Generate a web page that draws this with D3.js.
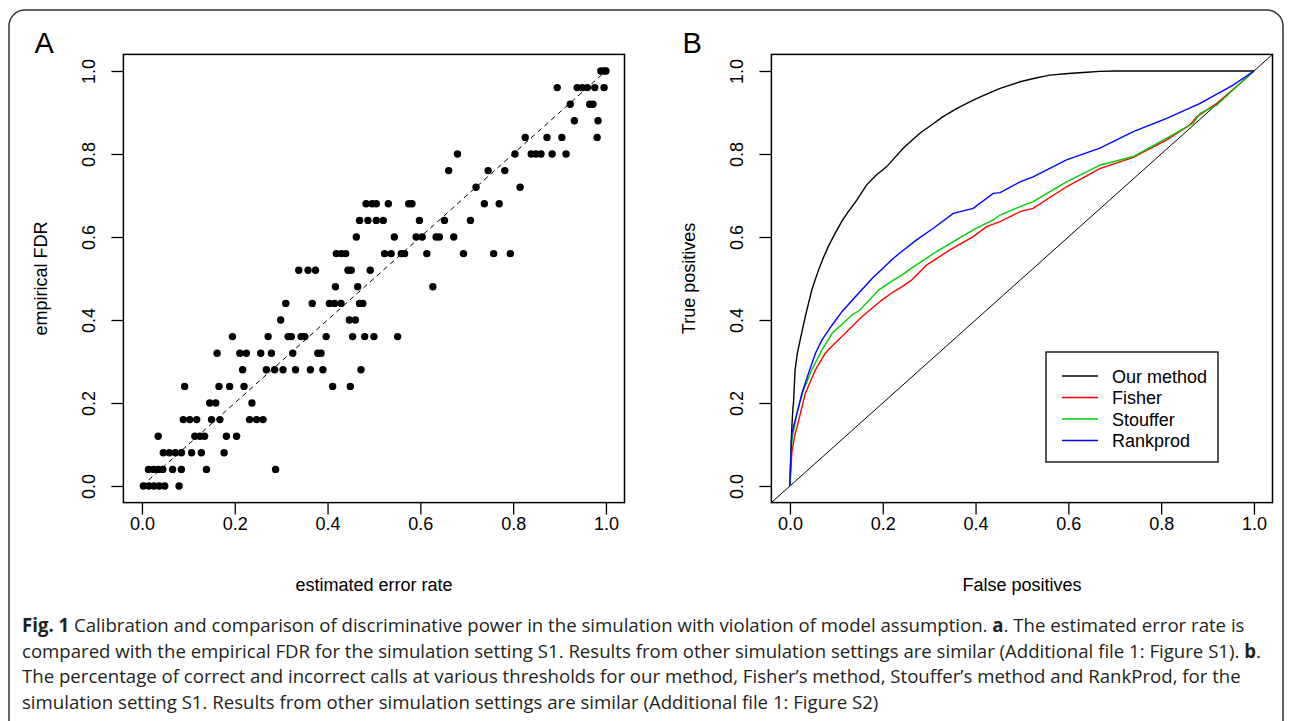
<!DOCTYPE html>
<html>
<head>
<meta charset="utf-8">
<title>Fig. 1</title>
<script src="https://cdn.jsdelivr.net/npm/d3@7"></script>
<style>
  body { margin: 0; background: #fff; }
  svg text { font-family: "Liberation Sans", Arial, sans-serif; fill: #000; }
  .tick text { font-size: 18px; }
  .cap { font-family: "Open Sans", "Noto Sans", sans-serif; font-size: 19px; fill: #231f20; }
</style>
</head>
<body>
<svg id="fig" width="1290" height="721"></svg>
<script>
// ---- data ----
var ticks = [0, 0.2, 0.4, 0.6, 0.8, 1.0];

// panel A: empirical FDR levels and the estimated error rates found at each level
var fdrLevels = [0, 0.04, 0.08, 0.12, 0.16, 0.20, 0.24, 0.28, 0.32, 0.36, 0.40, 0.44, 0.48,
                 0.52, 0.56, 0.60, 0.64, 0.68, 0.72, 0.76, 0.80, 0.84, 0.88, 0.92, 0.96, 1.0];
var estRate = [
  [0.003, 0.015, 0.026, 0.037, 0.049, 0.08],
  [0.014, 0.025, 0.035, 0.045, 0.066, 0.085, 0.139, 0.288],
  [0.046, 0.059, 0.072, 0.085, 0.107, 0.128, 0.177],
  [0.035, 0.114, 0.125, 0.135, 0.182, 0.204],
  [0.089, 0.103, 0.118, 0.15, 0.168, 0.232, 0.247, 0.261],
  [0.146, 0.159, 0.237],
  [0.092, 0.166, 0.189, 0.22, 0.411, 0.449],
  [0.217, 0.268, 0.286, 0.304, 0.331, 0.363, 0.39, 0.472],
  [0.162, 0.211, 0.225, 0.256, 0.279, 0.325, 0.379, 0.386],
  [0.195, 0.272, 0.315, 0.322, 0.343, 0.351, 0.397, 0.454, 0.48, 0.5, 0.551],
  [0.299, 0.447, 0.46],
  [0.31, 0.367, 0.404, 0.415, 0.429, 0.469, 0.476],
  [0.417, 0.465, 0.627],
  [0.338, 0.358, 0.374, 0.444, 0.451, 0.492],
  [0.419, 0.43, 0.439, 0.523, 0.537, 0.559, 0.566, 0.614, 0.693, 0.758, 0.794],
  [0.462, 0.544, 0.591, 0.604, 0.634, 0.641, 0.672],
  [0.469, 0.487, 0.505, 0.52, 0.598, 0.652, 0.708],
  [0.483, 0.496, 0.505, 0.531, 0.575, 0.582, 0.738, 0.77],
  [0.72, 0.815],
  [0.661, 0.746, 0.782],
  [0.68, 0.804, 0.839, 0.849, 0.86, 0.884, 0.914],
  [0.826, 0.873, 0.905, 0.981],
  [0.932, 0.983],
  [0.923, 0.965, 0.972],
  [0.895, 0.938, 0.949, 0.96, 0.976, 0.996],
  [0.989, 0.996, 1.0]
];

// panel B: [false positives, true positives]
var ourMethod = [[0,0],[0.001,0.04],[0.002,0.087],[0.004,0.14],[0.006,0.18],[0.008,0.207],[0.011,0.28],
  [0.016,0.32],[0.022,0.352],[0.033,0.408],[0.047,0.472],[0.054,0.496],[0.062,0.522],
  [0.072,0.55],[0.083,0.578],[0.097,0.608],[0.112,0.638],[0.125,0.66],[0.144,0.689],[0.165,0.725],
  [0.185,0.748],[0.208,0.769],[0.225,0.79],[0.244,0.814],[0.26,0.83],[0.28,0.85],[0.305,0.87],
  [0.33,0.89],[0.36,0.91],[0.395,0.93],[0.425,0.945],[0.453,0.958],[0.496,0.974],[0.53,0.983],
  [0.56,0.99],[0.6,0.994],[0.64,0.997],[0.668,0.999],[0.7,1],[1,1]];
var fisher = [[0,0],[0.002,0.039],[0.004,0.08],[0.01,0.12],[0.019,0.159],[0.033,0.223],
  [0.055,0.28],[0.076,0.32],[0.093,0.34],[0.112,0.36],[0.155,0.408],[0.198,0.448],[0.223,0.468],
  [0.241,0.48],[0.262,0.496],[0.295,0.533],[0.345,0.569],[0.395,0.601],[0.424,0.625],[0.453,0.637],
  [0.467,0.645],[0.496,0.661],[0.524,0.669],[0.596,0.721],[0.668,0.765],[0.74,0.792],[0.812,0.834],
  [0.862,0.87],[0.877,0.89],[0.92,0.922],[0.97,0.97],[1,1]];
var stouffer = [[0,0],[0.002,0.07],[0.004,0.11],[0.015,0.175],[0.029,0.231],[0.047,0.28],
  [0.069,0.328],[0.091,0.368],[0.134,0.412],[0.151,0.424],[0.191,0.472],[0.223,0.496],[0.241,0.508],
  [0.266,0.528],[0.316,0.565],[0.352,0.589],[0.395,0.617],[0.438,0.641],[0.453,0.653],[0.496,0.673],
  [0.524,0.685],[0.596,0.733],[0.668,0.773],[0.74,0.794],[0.812,0.838],[0.869,0.874],[0.884,0.898],
  [0.92,0.918],[0.97,0.97],[1,1]];
var rankprod = [[0,0],[0,0.015],[0.004,0.127],[0.015,0.175],[0.026,0.224],[0.04,0.272],[0.055,0.32],
  [0.069,0.352],[0.091,0.388],[0.112,0.42],[0.141,0.456],[0.177,0.5],[0.223,0.549],[0.241,0.565],
  [0.273,0.593],[0.309,0.621],[0.352,0.657],[0.395,0.669],[0.438,0.705],[0.453,0.707],[0.496,0.733],
  [0.524,0.745],[0.596,0.786],[0.668,0.814],[0.74,0.854],[0.812,0.886],[0.884,0.922],[0.955,0.966],[1,1]];

var methods = ["Our method", "Fisher", "Stouffer", "Rankprod"];
var methodColors = ["#000000", "#ff0000", "#00cd00", "#0000ff"];
var curves = [ourMethod, fisher, stouffer, rankprod];

var captionLines = [
  [["b", "Fig. 1"], ["n", " Calibration and comparison of discriminative power in the simulation with violation of model assumption. "], ["b", "a"], ["n", ". The estimated error rate is"]],
  [["n", "compared with the empirical FDR for the simulation setting S1. Results from other simulation settings are similar (Additional file 1: Figure S1). "], ["b", "b"], ["n", "."]],
  [["n", "The percentage of correct and incorrect calls at various thresholds for our method, Fisher\u2019s method, Stouffer\u2019s method and RankProd, for the"]],
  [["n", "simulation setting S1. Results from other simulation settings are similar (Additional file 1: Figure S2)"]]
];

// ---- drawing ----
var svg = d3.select("#fig");

svg.append("rect")
  .attr("x", 9).attr("y", 10).attr("width", 1274).attr("height", 790).attr("rx", 16)
  .attr("fill", "none").attr("stroke", "#333").attr("stroke-width", 1.5);

function panel(left, xTitle, yTitle, letter) {
  var x = d3.scaleLinear().domain([-0.04, 1.04]).range([left, left + 501.1]);
  var y = d3.scaleLinear().domain([-0.04, 1.04]).range([502.6, 54.4]);
  var g = svg.append("g");

  var xAxis = g.append("g").attr("transform", "translate(0,502.6)")
    .call(d3.axisBottom(x).tickValues(ticks).tickSize(12).tickPadding(3).tickFormat(d3.format(".1f")));
  xAxis.select(".domain").remove();
  xAxis.selectAll("line").attr("stroke-width", 1.3);

  var yAxis = g.append("g").attr("transform", "translate(" + x(-0.04) + ",0)")
    .call(d3.axisLeft(y).tickValues(ticks).tickSize(12).tickFormat(d3.format(".1f")));
  yAxis.select(".domain").remove();
  yAxis.selectAll("line").attr("stroke-width", 1.3);
  yAxis.selectAll("text")
    .attr("x", null).attr("dy", null)
    .attr("text-anchor", "middle")
    .attr("transform", "translate(-28,0) rotate(-90)");

  g.append("rect")
    .attr("x", x(-0.04)).attr("y", y(1.04))
    .attr("width", x(1.04) - x(-0.04)).attr("height", y(-0.04) - y(1.04))
    .attr("fill", "none").attr("stroke", "#000").attr("stroke-width", 1.5);

  g.append("text").attr("x", (x(-0.04) + x(1.04)) / 2).attr("y", 591)
    .attr("text-anchor", "middle").style("font-size", "18px").text(xTitle);
  g.append("text")
    .attr("transform", "translate(" + (x(-0.04) - 76) + "," + ((y(-0.04) + y(1.04)) / 2) + ") rotate(-90)")
    .attr("text-anchor", "middle").style("font-size", "18px").text(yTitle);
  g.append("text").attr("x", x(-0.04) - 89).attr("y", 53)
    .style("font-size", "29px").text(letter);

  return {g: g, x: x, y: y};
}

// Panel A
var A = panel(123.4, "estimated error rate", "empirical FDR", "A");
A.g.append("line")
  .attr("x1", A.x(0)).attr("y1", A.y(0)).attr("x2", A.x(1)).attr("y2", A.y(1))
  .attr("stroke", "#000").attr("stroke-width", 1).attr("stroke-dasharray", "5,4");

var pts = [];
fdrLevels.forEach(function(f, i) {
  estRate[i].forEach(function(e) { pts.push({e: e, f: f}); });
});
A.g.selectAll(".pt").data(pts).enter().append("circle")
  .attr("class", "pt")
  .attr("cx", function(d) { return A.x(d.e); })
  .attr("cy", function(d) { return A.y(d.f); })
  .attr("r", 3.7).attr("fill", "#000");

// Panel B
var B = panel(771.4, "False positives", "True positives", "B");
B.g.append("line")
  .attr("x1", B.x(-0.04)).attr("y1", B.y(-0.04)).attr("x2", B.x(1.04)).attr("y2", B.y(1.04))
  .attr("stroke", "#000").attr("stroke-width", 1);

var line = d3.line()
  .x(function(d) { return B.x(d[0]); })
  .y(function(d) { return B.y(d[1]); });

B.g.selectAll(".roc").data(curves).enter().append("path")
  .attr("class", "roc")
  .attr("d", line)
  .attr("fill", "none")
  .attr("stroke", function(d, i) { return methodColors[i]; })
  .attr("stroke-width", 1.4);

// legend
var leg = B.g.append("g").attr("transform", "translate(1046,352)");
leg.append("rect").attr("width", 172).attr("height", 110)
  .attr("fill", "#fff").attr("stroke", "#000").attr("stroke-width", 1.3);
var item = leg.selectAll(".item").data(methods).enter().append("g")
  .attr("transform", function(d, i) { return "translate(0," + (24 + i * 21.5) + ")"; });
item.append("line").attr("x1", 16).attr("x2", 52)
  .attr("stroke", function(d, i) { return methodColors[i]; }).attr("stroke-width", 1.4);
item.append("text").attr("x", 66).attr("y", 6.5).style("font-size", "18px")
  .text(function(d) { return d; });

// caption
var capG = svg.append("g");
var capTexts = captionLines.map(function(parts, i) {
  var t = capG.append("text").attr("class", "cap").attr("x", 0).attr("y", 0)
    .attr("transform", "translate(22," + (632 + i * 25.5) + ")");
  parts.forEach(function(p) {
    t.append("tspan").attr("font-weight", p[0] === "b" ? "bold" : "normal").text(p[1]);
  });
  return t;
});
var sx = 1240 / capTexts[1].node().getComputedTextLength();
capTexts.forEach(function(t, i) {
  t.attr("transform", "translate(22," + (632 + i * 25.5) + ") scale(" + sx + ",1)");
});
</script>
</body>
</html>
